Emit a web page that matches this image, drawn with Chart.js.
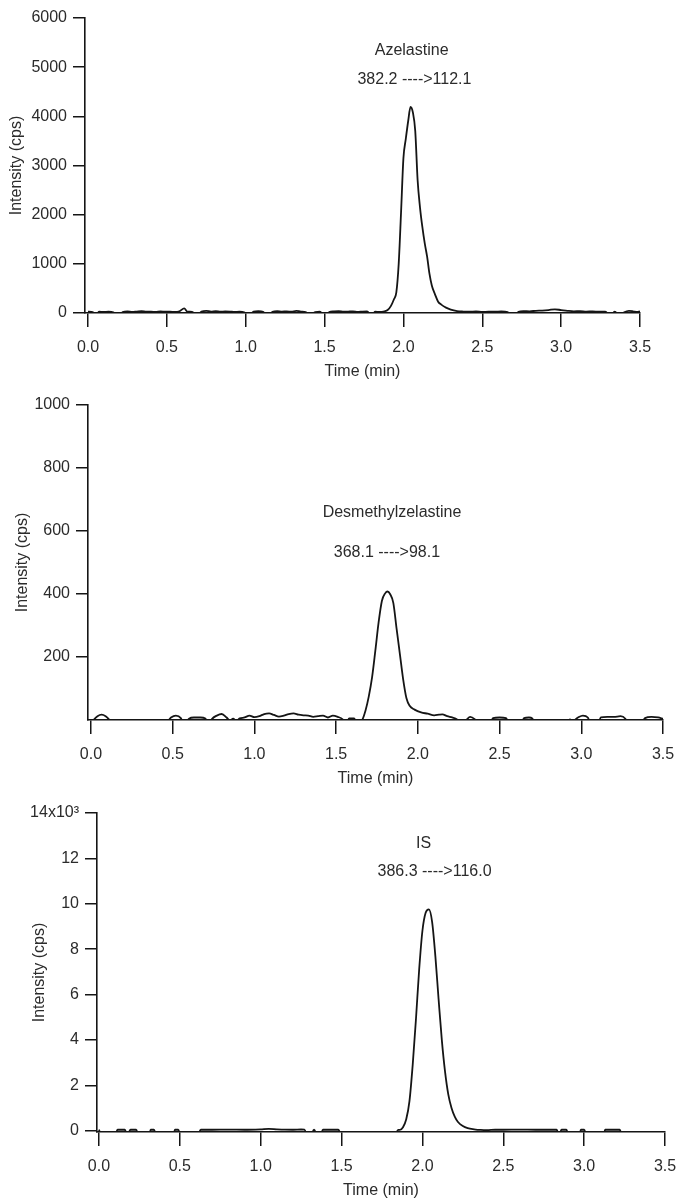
<!DOCTYPE html>
<html>
<head>
<meta charset="utf-8">
<script src="https://cdn.jsdelivr.net/npm/chart.js@4"></script>
<style>
  body { margin: 0; background: #fff; }
  .wrap { position: relative; width: 676px; height: 1200px; }
  canvas { position: absolute; left: 0; }
</style>
</head>
<body>
<div class="wrap">
  <canvas id="c1" width="676" height="381" style="top:0px"></canvas>
  <canvas id="c2" width="676" height="407" style="top:381px"></canvas>
  <canvas id="c3" width="676" height="412" style="top:788px"></canvas>
</div>
<script>
// Shared axis ticks
const xTicks = [0, 0.5, 1.0, 1.5, 2.0, 2.5, 3.0, 3.5];
const yTicks1 = [0, 1000, 2000, 3000, 4000, 5000, 6000];
const yTicks2 = [200, 400, 600, 800, 1000];
const yTicks3 = [0, 2000, 4000, 6000, 8000, 10000, 12000, 14000];

// Azelastine 382.2 -> 112.1 (cps)
const time1 = [0.00,0.03,0.05,0.07,0.10,0.13,0.16,0.19,0.22,0.25,0.28,0.31,0.34,0.37,0.40,0.43,0.46,0.49,0.52,0.55,0.58,0.61,0.63,0.66,0.69,0.72,0.75,0.78,0.81,0.84,0.87,0.90,0.93,0.96,0.99,1.02,1.05,1.08,1.11,1.14,1.17,1.20,1.23,1.26,1.29,1.32,1.35,1.38,1.41,1.44,1.47,1.50,1.53,1.56,1.59,1.62,1.65,1.68,1.71,1.74,1.77,1.80,1.82,1.85,1.88,1.90,1.92,1.94,1.955,1.97,1.985,2.00,2.015,2.03,2.045,2.06,2.075,2.09,2.105,2.12,2.135,2.15,2.165,2.18,2.20,2.22,2.24,2.27,2.30,2.34,2.38,2.42,2.46,2.50,2.54,2.58,2.62,2.66,2.70,2.73,2.76,2.80,2.84,2.88,2.92,2.96,3.00,3.04,3.08,3.12,3.16,3.20,3.24,3.28,3.31,3.34,3.37,3.40,3.43,3.46,3.48,3.50];
const intensity1 = [30,20,-60,25,20,30,15,-60,20,35,20,30,40,25,30,20,35,25,30,20,35,95,30,25,-60,30,45,30,40,25,35,30,20,30,15,-60,30,40,25,-60,25,40,30,35,25,45,30,20,-60,20,25,-60,20,35,40,25,30,35,20,30,35,-60,25,20,35,60,140,280,420,1000,2050,3150,3540,3900,4190,4080,3700,2700,2150,1750,1420,1150,800,560,380,230,170,110,70,40,30,25,35,20,30,25,35,20,-60,25,40,35,45,50,60,75,60,45,35,40,30,35,25,30,-60,25,-60,15,45,30,20,35];

// Desmethylzelastine 368.1 -> 98.1 (cps)
const time2 = [0.00,0.02,0.04,0.065,0.09,0.11,0.13,0.20,0.30,0.40,0.47,0.49,0.52,0.55,0.57,0.60,0.63,0.67,0.70,0.72,0.74,0.77,0.80,0.83,0.85,0.87,0.89,0.91,0.94,0.97,1.00,1.03,1.06,1.09,1.12,1.15,1.18,1.21,1.24,1.27,1.30,1.33,1.36,1.39,1.42,1.45,1.48,1.51,1.54,1.56,1.58,1.61,1.63,1.66,1.68,1.70,1.72,1.74,1.76,1.78,1.80,1.815,1.83,1.85,1.87,1.89,1.91,1.93,1.95,1.98,2.02,2.06,2.10,2.13,2.15,2.18,2.21,2.24,2.27,2.30,2.32,2.35,2.38,2.44,2.46,2.50,2.54,2.56,2.63,2.65,2.68,2.70,2.72,2.80,2.90,2.93,2.95,2.98,3.01,3.04,3.06,3.10,3.12,3.16,3.20,3.24,3.27,3.29,3.36,3.39,3.43,3.47,3.50];
const intensity2 = [-15,2,12,17,12,2,-15,-15,-15,-15,-3,8,14,6,-15,4,8,8,5,-15,3,14,19,8,-2,4,-3,5,8,14,9,12,19,21,16,11,14,19,21,17,15,14,10,12,14,8,14,10,2,-15,5,5,-15,0,30,75,135,220,310,378,402,408,400,372,290,210,130,70,45,33,24,20,15,17,18,12,8,2,-15,2,10,2,-15,-15,6,8,6,-15,-15,6,8,5,-15,-15,-15,2,-2,8,14,8,-15,-15,8,10,10,12,4,-15,-15,6,10,8,4];

// IS 386.3 -> 116.0 (cps)
const time3 = [0.00,0.015,0.10,0.115,0.16,0.175,0.195,0.23,0.245,0.31,0.32,0.34,0.355,0.46,0.47,0.49,0.505,0.61,0.63,0.70,0.80,0.90,1.00,1.05,1.10,1.15,1.20,1.25,1.27,1.29,1.31,1.33,1.35,1.37,1.385,1.48,1.50,1.66,1.83,1.85,1.86,1.88,1.90,1.92,1.94,1.96,1.98,2.00,2.02,2.04,2.06,2.08,2.10,2.12,2.14,2.16,2.18,2.20,2.22,2.25,2.28,2.32,2.36,2.40,2.45,2.50,2.60,2.70,2.83,2.845,2.86,2.89,2.905,2.97,2.98,3.00,3.015,3.12,3.13,3.22,3.235,3.50];
const intensity3 = [40,-200,-200,40,40,-200,40,40,-200,-200,40,40,-200,-200,40,40,-200,-200,40,40,45,40,60,80,60,45,40,50,40,-200,-200,40,-200,-200,40,40,-200,-200,-200,30,30,150,500,1300,2900,4900,7100,8800,9600,9750,9200,7700,5800,4000,2600,1600,1000,620,380,200,110,60,30,20,40,40,45,40,40,-200,40,40,-200,-200,40,40,-200,-200,40,40,-200,-200];

const ink = '#151515';
const txt = '#2b2b2b';
const font = { family: "'Liberation Sans', Arial, sans-serif", size: 16 };

const notesPlugin = {
  id: 'notes',
  afterDatasetsDraw(chart, args, opts) {
    const { ctx, scales: { x, y } } = chart;
    ctx.save();
    ctx.font = "16px 'Liberation Sans', Arial, sans-serif";
    ctx.fillStyle = txt;
    ctx.textAlign = 'center';
    ctx.textBaseline = 'middle';
    opts.items.forEach(n => ctx.fillText(n.text, x.getPixelForValue(n.t), y.getPixelForValue(n.v)));
    ctx.restore();
  }
};

function makeChart(id, s) {
  return new Chart(document.getElementById(id), {
    type: 'line',
    data: { datasets: [{ data: s.time.map((t, i) => ({ x: t, y: s.value[i] })), borderColor: ink, borderWidth: 1.8, pointRadius: 0, cubicInterpolationMode: 'monotone', fill: false }] },
    options: {
      responsive: false, animation: false, events: [],
      layout: { autoPadding: false, padding: s.pad },
      plugins: { legend: { display: false }, tooltip: { enabled: false }, notes: { items: s.notes } },
      scales: {
        x: {
          type: 'linear', min: s.xMin, max: 3.5,
          afterBuildTicks: a => { a.ticks = xTicks.map(v => ({ value: v })); },
          // fixed height; ignore label overhang so the plot keeps its width
          afterFit: a => { a.height = 68; a.paddingLeft = 0; a.paddingRight = 0; },
          grid: { drawOnChartArea: false, tickLength: 14, color: ink, lineWidth: 1.5 },
          border: { color: ink, width: 1.6 },
          ticks: { padding: 11, color: txt, font, maxRotation: 0, autoSkip: false, callback: v => v.toFixed(1) },
          title: { display: true, text: 'Time (min)', color: txt, font, padding: 0 }
        },
        y: {
          min: s.yMin, max: s.yMax,
          afterBuildTicks: a => { a.ticks = s.yTicks.map(v => ({ value: v })); },
          afterFit: a => { a.width = s.yWidth; a.paddingTop = 0; a.paddingBottom = 0; },
          grid: { drawOnChartArea: false, tickLength: 12, color: ink, lineWidth: 1.5 },
          border: { color: ink, width: 1.6 },
          ticks: { padding: 6, color: txt, font, autoSkip: false, callback: s.yLabel },
          title: { display: true, text: 'Intensity (cps)', color: txt, font, padding: 0 }
        }
      }
    },
    plugins: [notesPlugin]
  });
}

makeChart('c1', {
  time: time1, value: intensity1, xMin: -0.019, yMin: 0, yMax: 6000, yTicks: yTicks1,
  yLabel: v => String(v), pad: { top: 18, right: 36, left: 7, bottom: 0 }, yWidth: 78,
  notes: [{ text: 'Azelastine', t: 2.052, v: 5330 }, { text: '382.2 ---->112.1', t: 2.07, v: 4755 }]
});

makeChart('c2', {
  time: time2, value: intensity2, xMin: -0.018, yMin: 0, yMax: 1000, yTicks: yTicks2,
  yLabel: v => String(v), pad: { top: 24, right: 13, left: 13, bottom: 0 }, yWidth: 75,
  notes: [{ text: 'Desmethylzelastine', t: 1.842, v: 657 }, { text: '368.1 ---->98.1', t: 1.811, v: 530 }]
});

makeChart('c3', {
  time: time3, value: intensity3, xMin: -0.012, yMin: -60, yMax: 14000, yTicks: yTicks3,
  yLabel: v => v === 14000 ? '14x10\u00B3' : String(v / 1000), pad: { top: 25, right: 11, left: 30, bottom: 0 }, yWidth: 67,
  notes: [{ text: 'IS', t: 2.007, v: 12650 }, { text: '386.3 ---->116.0', t: 2.075, v: 11400 }]
});
</script>
</body>
</html>
